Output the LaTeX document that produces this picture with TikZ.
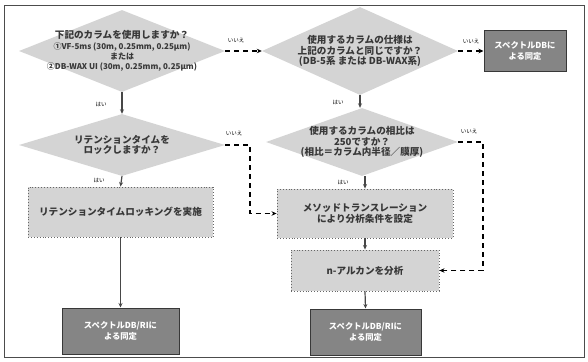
\documentclass[tikz,border=0pt]{standalone}
\usepackage{fontspec}
\newfontfamily\jp{Noto Sans CJK JP}
\usetikzlibrary{shapes.geometric,arrows.meta}
\newcommand\latsm{\fontsize{8}{10.2}\selectfont}
\begin{document}
\begin{tikzpicture}[x=1pt,y=-1pt,
  dia/.style={diamond, fill=black!17, inner sep=0pt},
  txt/.style={font=\jp\bfseries\fontsize{9.6}{10.4}\selectfont, text=black!78, align=center},
  lbl/.style={font=\jp\fontsize{5.5}{6}\selectfont, text=black},
  ltbox/.style={rectangle, fill=black!17, draw=black!60, dotted, line width=0.9pt, inner sep=0pt},
  dkbox/.style={rectangle, fill=black!48, draw=black!78, line width=1pt, inner sep=0pt, text=white!82, font=\jp\bfseries\fontsize{8.3}{10.5}\selectfont, align=center},
  sarr/.style={draw=black!72, line width=1.2pt, -{Stealth[length=4.5pt,width=4pt]}},
  darr/.style={draw=black, line width=1.5pt, dash pattern=on 5pt off 4pt, -{Stealth[length=5pt,width=4.5pt]}}
]
\useasboundingbox (0,0) rectangle (588,361);
\draw[black!70, line width=0.8pt] (4,5) rectangle (584,357);

% diamonds
\node[dia, minimum width=206pt, minimum height=82pt] (d1) at (122,51) {};
\node[txt] (t1) at (d1) {下記のカラムを使用しますか？\\{\latsm ①VF-5ms (30m, 0.25mm, 0.25µm)}\\{\latsm または}\\{\latsm ②DB-WAX UI (30m, 0.25mm, 0.25µm)}};
\node[dia, minimum width=196pt, minimum height=88pt] (d2) at (360,51) {};
\node[txt] (t2) at (d2) {使用するカラムの仕様は\\上記のカラムと同じですか？\\(DB-5系 または DB-WAX系)};
\node[dia, minimum width=206pt, minimum height=62pt] (d3) at (122,145) {};
\node[txt] (t3) at (d3) {リテンションタイムを\\ロックしますか？};
\node[dia, minimum width=192pt, minimum height=68pt] (d4) at (362,142) {};
\node[txt] (t4) at (d4) {使用するカラムの相比は\\250ですか？\\(相比＝カラム内半径／膜厚)};

% boxes
\node[dkbox, minimum width=82pt, minimum height=40pt] (e1) at (525,51) {スペクトルDBに\\よる同定};
\node[ltbox, minimum width=185pt, minimum height=50pt] (r1) at (120.5,212) {};
\node[txt] at (r1) {リテンションタイムロッキングを実施};
\node[ltbox, minimum width=176pt, minimum height=49pt] (m1) at (365,213.5) {};
\node[txt] at (m1) {メソッドトランスレーション\\により分析条件を設定};
\node[ltbox, minimum width=148pt, minimum height=41pt] (n1) at (365,270.5) {};
\node[txt] at (n1) {n-アルカンを分析};
\node[dkbox, minimum width=117pt, minimum height=46pt] (e2) at (120.5,331) {スペクトルDB/RIに\\よる同定};
\node[dkbox, minimum width=111pt, minimum height=46pt] (e3) at (365.5,332) {スペクトルDB/RIに\\よる同定};

% connectors
\draw[darr] (d1.east) -- (d2.west);
\draw[darr] (d2.east) -- (e1.west);
\draw[sarr] (d1.south) -- (d3.north);
\draw[sarr] (d3.south) -- (r1.north);
\draw[sarr] (r1.south) -- (e2.north);
\draw[sarr] (d2.south) -- (d2.south |- d4.north);
\draw[sarr] (d4.south -| m1.north) -- (m1.north);
\draw[sarr] (m1.south) -- (n1.north);
\draw[sarr] (n1.south) -- (e3.north);
\coordinate (c1) at (250,145);
\draw[darr] (d3.east) -- (c1) |- (m1.west);
\coordinate (c2) at (483,142);
\draw[darr] (d4.east) -- (c2) |- (n1.east);

% labels
\node[lbl] (l1) at (236,40) {いいえ};
\node[lbl] (l2) at (471,41) {いいえ};
\node[lbl] (l3) at (234,133) {いいえ};
\node[lbl] (l4) at (469,131) {いいえ};
\node[lbl] (l5) at (101,104) {はい};
\node[lbl] (l6) at (99,180) {はい};
\node[lbl] (l7) at (338,102) {はい};
\node[lbl] (l8) at (343,182) {はい};
\end{tikzpicture}
\end{document}
